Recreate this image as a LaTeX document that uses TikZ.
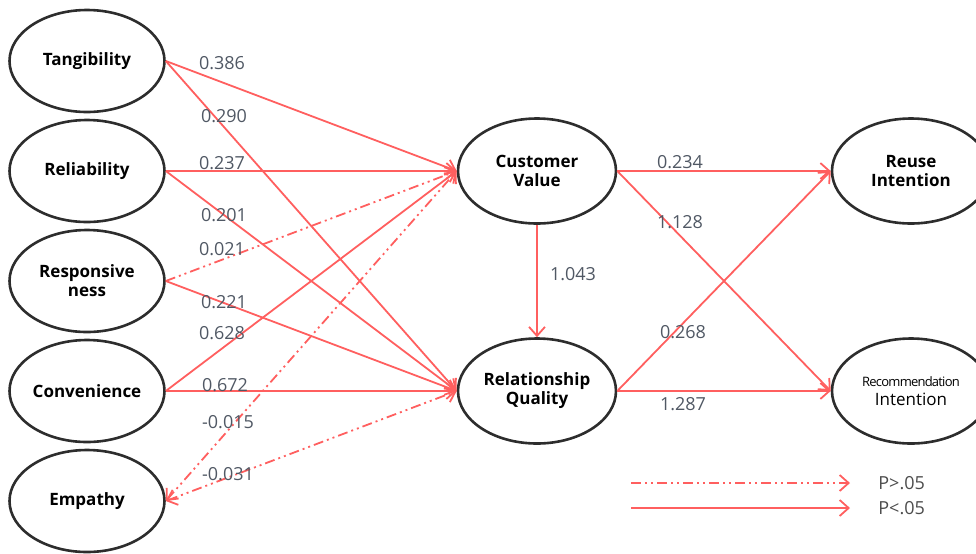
\documentclass[tikz,border=0pt]{standalone}
\usepackage{fontspec}
\setmainfont{Open Sans}
\usepackage{xcolor}
\usetikzlibrary{shapes.geometric, arrows, arrows.meta, positioning, calc}
\definecolor{pathred}{RGB}{255,95,95}
\definecolor{coefgray}{RGB}{80,88,100}
\definecolor{rimgray}{RGB}{45,45,45}

\begin{document}
\begin{tikzpicture}[node distance=55pt]
\tikzstyle{construct} = [ellipse, minimum width=77.5pt, minimum height=51pt, inner sep=0pt, text centered, align=center, draw=rimgray, line width=1.3pt, font=\fontsize{8.5}{9.5}\selectfont\bfseries]
\tikzstyle{mediator} = [construct, minimum width=79pt, minimum height=52.5pt]
\tikzstyle{arrow} = [line width=0.9pt, draw=pathred, ->, >={Straight Barb[length=4.5pt,width=8pt]}]
\tikzstyle{nsarrow} = [arrow, dash pattern=on 5pt off 2pt on 1pt off 2pt on 1pt off 2pt]
\tikzstyle{coef} = [text=coefgray, font=\fontsize{9}{10}\selectfont, inner sep=1pt]

\useasboundingbox (0,0) rectangle (488pt,-276.5pt);

% exogenous constructs
\node (tang) [construct] at (43.5pt,-30.5pt) {Tangibility};
\node (reli) [construct, below of=tang] {Reliability};
\node (resp) [construct, below of=reli] {Responsive\\ness};
\node (conv) [construct, below of=resp] {Convenience};
\node (empa) [construct, below of=conv] {Empathy};

% mediators and outcomes
\node (value) [mediator, right of=reli, xshift=170pt] {Customer\\Value};
\node (quality) [mediator, below of=value, yshift=-55pt] {Relationship\\Quality};
\node (reuse) [mediator, right of=value, xshift=132pt] {Reuse\\Intention};
\node (recom) [mediator, right of=quality, xshift=132pt, font=\fontsize{8.5}{9.5}\selectfont] {{\fontsize{6.5}{7.5}\selectfont\addfontfeature{LetterSpace=-6}Recommendation}\\Intention};

% paths
\draw [arrow] (tang.east) -- (value.west);
\draw [arrow] (tang.east) -- (quality.west);
\draw [arrow] (reli.east) -- (value.west);
\draw [arrow] (reli.east) -- (quality.west);
\draw [nsarrow] (resp.east) -- (value.west);
\draw [arrow] (resp.east) -- (quality.west);
\draw [arrow] (conv.east) -- (value.west);
\draw [arrow] (conv.east) -- (quality.west);
\draw [nsarrow, <->] (empa.east) -- (value.west);
\draw [nsarrow, <->] (empa.east) -- (quality.west);
\draw [arrow] (value.south) -- (quality.north);
\draw [arrow] (value.east) -- (reuse.west);
\draw [arrow] (value.east) -- (recom.west);
\draw [arrow] (quality.east) -- (reuse.west);
\draw [arrow] (quality.east) -- (recom.west);

% coefficients
\node (c1) [coef] at (111pt,-31.5pt) {0.386};
\node (c2) [coef] at (112pt,-58pt) {0.290};
\node (c3) [coef] at (111pt,-81.5pt) {0.237};
\node (c4) [coef] at (112pt,-107.5pt) {0.201};
\node (c5) [coef] at (111pt,-124.5pt) {0.021};
\node (c6) [coef] at (112pt,-151pt) {0.221};
\node (c7) [coef] at (111pt,-166.5pt) {0.628};
\node (c8) [coef] at (112.5pt,-192.5pt) {0.672};
\node (c9) [coef] at (114pt,-211pt) {-0.015};
\node (c10) [coef] at (114pt,-237pt) {-0.031};
\node (c11) [coef] at (286.5pt,-137pt) {1.043};
\node (c12) [coef] at (340pt,-81pt) {0.234};
\node (c13) [coef] at (340pt,-111pt) {1.128};
\node (c14) [coef] at (341.5pt,-166pt) {0.268};
\node (c15) [coef] at (341.5pt,-202pt) {1.287};

% legend
\coordinate (ns1) at (315.5pt,-241.5pt);
\coordinate (ns2) at (425pt,-241.5pt);
\coordinate (sg1) at (315.5pt,-254pt);
\coordinate (sg2) at (425pt,-254pt);
\draw [nsarrow] (ns1) -- (ns2);
\draw [arrow] (sg1) -- (sg2);
\node (nslab) [coef, text=black!70, right=13pt of ns2] {P>.05};
\node (sglab) [coef, text=black!70, right=13pt of sg2] {P<.05};

\end{tikzpicture}
\end{document}
